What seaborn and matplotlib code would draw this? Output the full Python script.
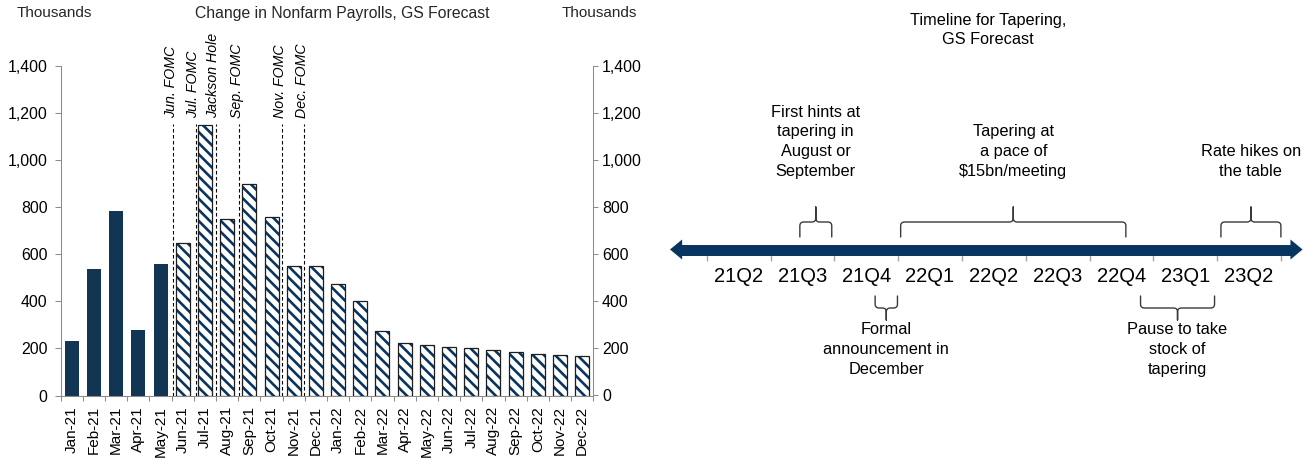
import numpy as np
import pandas as pd
import matplotlib
matplotlib.use("Agg")
import matplotlib.pyplot as plt
from matplotlib.ticker import FixedLocator, FuncFormatter
import seaborn as sns

# ---------------- data ----------------
months = ["Jan-21", "Feb-21", "Mar-21", "Apr-21", "May-21", "Jun-21", "Jul-21",
          "Aug-21", "Sep-21", "Oct-21", "Nov-21", "Dec-21", "Jan-22", "Feb-22",
          "Mar-22", "Apr-22", "May-22", "Jun-22", "Jul-22", "Aug-22", "Sep-22",
          "Oct-22", "Nov-22", "Dec-22"]
payrolls = [233, 536, 785, 278, 559, 650, 1150, 750, 900, 760, 550, 550,
            475, 400, 275, 225, 215, 208, 200, 192, 183, 175, 172, 169]
n_actual = 5
status = ["Actual"] * n_actual + ["GS Forecast"] * (len(months) - n_actual)

event_labels = ["Jun. FOMC", "Jul. FOMC", "Jackson Hole", "Sep. FOMC",
                "Nov. FOMC", "Dec. FOMC"]
event_pos = [4.55, 5.58, 6.48, 7.55, 9.49, 10.46]   # month index
event_top = 1155

y_ticks = [0, 200, 400, 600, 800, 1000, 1200, 1400]

quarters = ["21Q2", "21Q3", "21Q4", "22Q1", "22Q2", "22Q3", "22Q4", "23Q1", "23Q2"]
above_text = ["First hints at\ntapering in\nAugust or\nSeptember",
              "Tapering at\na pace of\n$15bn/meeting",
              "Rate hikes on\nthe table"]
above_start = [1.46, 3.04, 8.06]   # quarter index (0 = start of 21Q2)
above_end = [1.96, 6.57, 9.00]
below_text = ["Formal\nannouncement in\nDecember",
              "Pause to take\nstock of\ntapering"]
below_start = [2.64, 6.80]
below_end = [2.99, 7.96]

NAVY = "#08355f"
GREY = "#8c8c8c"
STRIPES = chr(92) * 3   # back-slash hatch, three lines per unit

# ---------------- style ----------------
sns.set_style("white")
plt.rcParams["font.family"] = ["Liberation Sans", "DejaVu Sans"]
plt.rcParams["hatch.linewidth"] = 1.9

W, H = 1309, 459
fig = plt.figure(figsize=(W / 100, H / 100), dpi=100)
fig.patch.set_facecolor("white")

# ---------------- left: payrolls bar chart ----------------
ax = fig.add_axes([60.7 / W, 1 - 395.5 / H, (593.3 - 60.7) / W, (395.5 - 66) / H])
df = pd.DataFrame({"month": months, "value": payrolls, "status": status})

sns.barplot(data=df, x="month", y="value", hue="status", order=months,
            hue_order=["Actual", "GS Forecast"],
            palette={"Actual": NAVY, "GS Forecast": NAVY},
            dodge=False, width=0.63, errorbar=None, legend=False,
            linewidth=0, ax=ax, zorder=2)
# forecast bars: white with diagonal navy stripes
for patch in ax.containers[1]:
    patch.set_facecolor("white")
    patch.set_edgecolor(NAVY)
    patch.set_hatch(STRIPES)
    patch.set_linewidth(0)
# dark outline around forecast bars
sns.barplot(data=df[df["status"] == "GS Forecast"], x="month", y="value",
            order=months, fill=False, color="#1e1e1e", linewidth=0.9,
            width=0.63, errorbar=None, ax=ax, zorder=3)

ax.vlines(event_pos, 0, event_top, colors="black", linestyles=(0, (3.2, 2.2)),
          linewidth=0.8, zorder=1)
for lab, pos in zip(event_labels, event_pos):
    ax.text(pos - 0.1, event_top + 25, lab, rotation=90, ha="center", va="bottom",
            fontsize=10.2, style="italic", color="black")

ax.set_xlim(-0.5, len(months) - 0.5)
ax.set_ylim(0, 1400)
ax.set_xlabel("")
ax.set_ylabel("")
ax.set_yticks(y_ticks)
fmt = FuncFormatter(lambda v, p: f"{int(v):,}")
ax.yaxis.set_major_formatter(fmt)
ax.xaxis.set_minor_locator(FixedLocator(np.arange(-0.5, len(months), 1.0)))
ax.tick_params(axis="x", which="major", length=0, pad=7.5, labelsize=11,
               labelrotation=90, colors="black")
ax.tick_params(axis="x", which="minor", length=3.4, width=0.75, color=GREY,
               direction="out", bottom=True)
ax.tick_params(axis="y", left=True, length=4, width=0.75, color=GREY, pad=5.5,
               labelsize=11.4, labelcolor="black", direction="out")
for side in ["top", "right"]:
    ax.spines[side].set_visible(False)
for side in ["left", "bottom"]:
    ax.spines[side].set_color(GREY)
    ax.spines[side].set_linewidth(0.75)

ax2 = ax.twinx()
ax2.set_ylim(0, 1400)
ax2.set_yticks(y_ticks)
ax2.yaxis.set_major_formatter(fmt)
ax2.tick_params(axis="y", right=True, length=3.3, width=0.75, color=GREY, pad=3,
                labelsize=11.4, labelcolor="black", direction="out")
for side in ["top", "left", "bottom"]:
    ax2.spines[side].set_visible(False)
ax2.spines["right"].set_color(GREY)
ax2.spines["right"].set_linewidth(0.75)
ax2.grid(False)
ax.grid(False)

fig.text(16.7 / W, 1 - 13.3 / H, "Thousands", ha="left", va="center", fontsize=11)
fig.text(342 / W, 1 - 13.3 / H, "Change in Nonfarm Payrolls, GS Forecast",
         ha="center", va="center", fontsize=11.3)
fig.text(561.7 / W, 1 - 13.3 / H, "Thousands", ha="left", va="center", fontsize=11)

# ---------------- right: tapering timeline ----------------
tx = fig.add_axes([660 / W, 0, (W - 660) / W, 1])
step = 63.8
tx.set_xlim(-(706.7 - 660) / step, (W - 706.7) / step)
tx.set_ylim(H, 0)
tx.axis("off")

y_line = 249.5
x_left, x_right = -0.575, 9.34
head_len, head_half = 0.19, 10
tx.plot([x_left + head_len * 0.9, x_right - head_len * 0.9], [y_line, y_line],
        color=NAVY, linewidth=7.9, solid_capstyle="butt", zorder=2)
tx.fill([x_left, x_left + head_len, x_left + head_len],
        [y_line, y_line - head_half, y_line + head_half], color=NAVY, lw=0, zorder=3)
tx.fill([x_right, x_right - head_len, x_right - head_len],
        [y_line, y_line - head_half, y_line + head_half], color=NAVY, lw=0, zorder=3)

tx.vlines(np.arange(len(quarters) + 1), y_line + 5.5, y_line + 11,
          colors="#a6a6a6", linewidth=1.0, zorder=1)
for i, q in enumerate(quarters):
    tx.text(i + 0.5, 277, q, ha="center", va="center", fontsize=14.5, color="black")


def qbez(p0, c, p1, n=12):
    t = np.linspace(0, 1, n)[:, None]
    return (1 - t) ** 2 * np.array(p0) + 2 * (1 - t) * t * np.array(c) + t ** 2 * np.array(p1)


def brace(ax, x0, x1, y_end, y_bar, y_tip, rx=0.065, ry=4.0, color="#3a3a3a", lw=1.0):
    s = np.sign(y_bar - y_end)
    xm = (x0 + x1) / 2
    pts = [np.array([[x0, y_end]])]
    pts.append(qbez((x0, y_bar - s * ry), (x0, y_bar), (x0 + rx, y_bar)))
    pts.append(qbez((xm - rx, y_bar), (xm, y_bar), (xm, y_bar + s * ry)))
    pts.append(np.array([[xm, y_tip]]))
    left = np.vstack(pts)
    right = left[::-1].copy()
    right[:, 0] = 2 * xm - right[:, 0]
    path = np.vstack([left, right])
    ax.plot(path[:, 0], path[:, 1], color=color, linewidth=lw,
            solid_joinstyle="round", zorder=2)


for txt, a, b in zip(above_text, above_start, above_end):
    brace(tx, a, b, 237, 222, 207)
    tx.text((a + b) / 2, 179, txt, ha="center", va="bottom", fontsize=11.8,
            linespacing=1.4, color="black")

for txt, a, b in zip(below_text, below_start, below_end):
    brace(tx, a, b, 296, 308, 320)
    tx.text((a + b) / 2, 322, txt, ha="center", va="top", fontsize=11.8,
            linespacing=1.4, color="black")

tx.text(4.41, 30.3, "Timeline for Tapering,\nGS Forecast", ha="center",
        va="center", fontsize=11.7, linespacing=1.3, color="black")

fig.savefig("out.png", dpi=100, facecolor="white")
